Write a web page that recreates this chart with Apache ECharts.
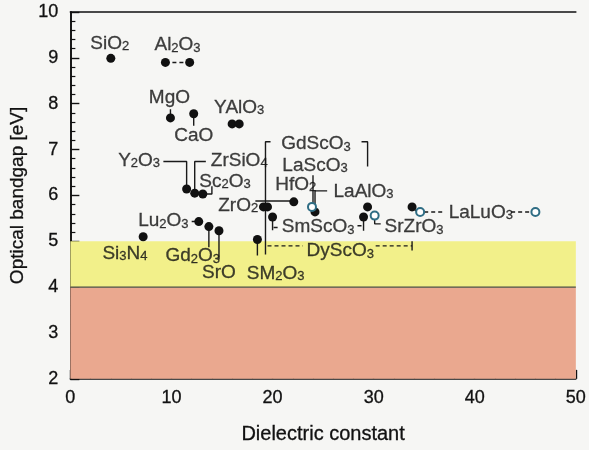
<!DOCTYPE html>
<html><head><meta charset="utf-8">
<script src="https://cdn.jsdelivr.net/npm/echarts@6/dist/echarts.min.js"></script>
<style>html,body{margin:0;padding:0;background:#f6f6f4}#c{width:589px;height:450px}</style>
</head><body><div id="c"></div>
<script>
// Filled points: [dielectric constant, bandgap eV]
const filledPoints = [
  [4.0, 8.99], [9.4, 8.90], [11.8, 8.90], [9.9, 7.69], [12.2, 7.78],
  [16.0, 7.56], [16.7, 7.56], [11.5, 6.14], [12.3, 6.05], [13.1, 6.03],
  [19.1, 5.75], [19.5, 5.75], [22.1, 5.86], [12.7, 5.43], [13.7, 5.32],
  [14.7, 5.23], [7.2, 5.10], [18.5, 5.04], [20.0, 5.53], [24.2, 5.64],
  [29.4, 5.75], [29.0, 5.53], [33.8, 5.75]
];
// Open points
const openPoints = [[23.9, 5.75], [30.1, 5.56], [34.6, 5.64], [46.0, 5.64]];
// Material labels (digits after "_" become subscripts)
const labelNames = ['SiO_2','Al_2O_3','MgO','YAlO_3','CaO','GdScO_3','Y_2O_3','ZrSiO_4','LaScO_3','Sc_2O_3','HfO_2','LaAlO_3','ZrO_2','SmScO_3','SrZrO_3','LaLuO_3','Lu_2O_3','Si_3N_4','Gd_2O_3','DyScO_3','SrO','SM_2O_3'];
const labelAnchors = [[3.9,9.35],[10.6,9.31],[9.8,8.17],[16.7,7.95],[12.2,7.33],[24.3,7.15],[6.8,6.79],[16.7,6.79],[24.2,6.68],[15.3,6.33],[22.3,6.27],[29.0,6.12],[16.6,5.81],[24.5,5.34],[34.0,5.34],[40.6,5.66],[9.2,5.47],[5.4,4.76],[12.1,4.71],[26.7,4.82],[14.7,4.35],[20.3,4.33]];
// Leader lines (solid)
const solidLeaders = [
  [[9.9,7.88],[9.9,7.69]],
  [[12.2,7.78],[12.2,7.52]],
  [[9.2,6.74],[11.5,6.74],[11.5,6.14]],
  [[13.4,6.74],[12.3,6.74],[12.3,6.05]],
  [[13.1,6.03],[14.0,6.03],[14.0,6.2]],
  [[19.8,7.17],[19.3,7.17],[19.3,4.71]],
  [[28.8,7.17],[29.4,7.17],[29.4,6.63]],
  [[18.3,5.88],[22.1,5.88]],
  [[24.0,6.44],[24.0,5.79]],
  [[25.4,6.10],[24.2,6.10],[24.2,5.68]],
  [[12.0,5.43],[12.6,5.43]],
  [[13.7,5.32],[13.7,4.87]],
  [[14.7,5.23],[14.7,4.60]],
  [[18.5,5.04],[18.5,4.69]],
  [[20.0,5.53],[20.0,5.24]],
  [[20.1,5.30],[20.5,5.30]],
  [[28.4,5.34],[28.8,5.34]],
  [[29.0,5.53],[29.0,5.23]],
  [[30.1,5.56],[30.1,5.38],[30.7,5.38]],
  [[33.8,5.75],[34.2,5.66]],
  [[33.8,5.0],[33.8,4.8]]
];
// Leader lines (dashed)
const dashedLeaders = [
  [[9.4,8.90],[11.8,8.90]],
  [[19.5,4.90],[23.0,4.90]],
  [[30.2,4.90],[33.8,4.90]],
  [[35.0,5.64],[36.9,5.64]],
  [[43.6,5.64],[45.6,5.64]]
];
const xTicks = [0,10,20,30,40,50];
const yTicks = [2,3,4,5,6,7,8,9,10];

const FONT = 'Liberation Sans';
const TXT = '#111';
const thick = {textBorderColor: TXT, textBorderWidth: 0.3};
function rich(name){
  const parts = name.split(/(_\d)/).filter(s=>s.length);
  return parts.map(p => p[0]==='_' ? '{s|'+p.slice(1)+'}' : '{n|'+p+'}').join('');
}
const series = [];
series.push({
  type:'line', data:[[0,2],[50,2]], symbol:'none', lineStyle:{opacity:0}, silent:true, z:0,
  markArea:{silent:true, data:[
    [{yAxis:2, itemStyle:{color:'#eaa88f', opacity:1}},{yAxis:4}],
    [{yAxis:4, itemStyle:{color:'#f2f08a', opacity:1}},{yAxis:5}]
  ]}
});
series.push({type:'line', data:[[0,4],[50,4]], symbol:'none', silent:true, z:2,
  lineStyle:{color:'#4a4a44', width:1.3}});
solidLeaders.forEach(pl => series.push({type:'line', data:pl, symbol:'none', silent:true, z:3,
  lineStyle:{color:'#1a1a1a', width:1.4}}));
dashedLeaders.forEach(pl => series.push({type:'line', data:pl, symbol:'none', silent:true, z:3,
  lineStyle:{color:'#1a1a1a', width:1.4, type:[4,3]}}));
series.push({type:'scatter', data:filledPoints, symbol:'circle', symbolSize:9, z:5,
  itemStyle:{color:'#111', opacity:1}});
series.push({type:'scatter', data:openPoints, symbol:'emptyCircle', symbolSize:8, z:5,
  itemStyle:{color:'#2f6d84', borderWidth:1.4, opacity:1}});
series.push({type:'scatter', data:labelAnchors.map((p,i)=>[p[0],p[1],labelNames[i]]), symbolSize:0, z:6,
  label:{show:true, position:'inside', align:'center', verticalAlign:'middle',
    formatter: p => rich(p.data[2]),
    rich:{ n:Object.assign({fontFamily:FONT, fontSize:19, color:TXT, lineHeight:22, verticalAlign:'bottom'}, thick),
           s:Object.assign({fontFamily:FONT, fontSize:13, color:TXT, lineHeight:12, verticalAlign:'bottom'}, thick) }}});

const chart = echarts.init(document.getElementById('c'), null, {renderer:'canvas'});
chart.setOption({
  animation:false,
  backgroundColor:'#f6f6f4',
  grid:{left:68, right:11, top:12, bottom:67},
  xAxis:[{type:'value', min:0, max:50, interval:10, position:'bottom',
    name:'Dielectric constant', nameLocation:'middle', nameGap:46,
    nameTextStyle:Object.assign({fontFamily:FONT, fontSize:20, color:TXT}, thick),
    axisLine:{lineStyle:{color:'#111', width:1.6}},
    axisTick:{inside:true, length:9, lineStyle:{color:'#111', width:1.4}},
    minorTick:{show:true, splitNumber:5, length:5, lineStyle:{color:'#111', width:1.2}},
    splitLine:{show:false},
    axisLabel:Object.assign({fontFamily:FONT, fontSize:18, color:TXT, margin:10,
      formatter: v => xTicks.includes(v) ? String(v) : ''}, thick)},
   {type:'value', min:0, max:50, position:'top', axisLine:{show:true, lineStyle:{color:'#111', width:1.6}},
    axisTick:{show:false}, axisLabel:{show:false}, splitLine:{show:false}}],
  yAxis:[{type:'value', min:2, max:10, interval:1, position:'left',
    name:'Optical bandgap [eV]', nameLocation:'middle', nameGap:30, nameRotate:90,
    nameTextStyle:Object.assign({fontFamily:FONT, fontSize:19, color:TXT}, thick),
    axisLine:{show:true, lineStyle:{color:'#111', width:1.6}},
    axisTick:{inside:true, length:9, lineStyle:{color:'#111', width:1.4}},
    minorTick:{show:true, splitNumber:5, length:5, lineStyle:{color:'#111', width:1.2}},
    splitLine:{show:false},
    axisLabel:Object.assign({fontFamily:FONT, fontSize:18, color:TXT, margin:12,
      formatter: v => yTicks.includes(v) ? String(v) : ''}, thick)},
   {type:'value', min:2, max:10, position:'right', axisLine:{show:true, lineStyle:{color:'#111', width:1.6}},
    axisTick:{show:false}, axisLabel:{show:false}, splitLine:{show:false}}],
  series: series
});
</script></body></html>
